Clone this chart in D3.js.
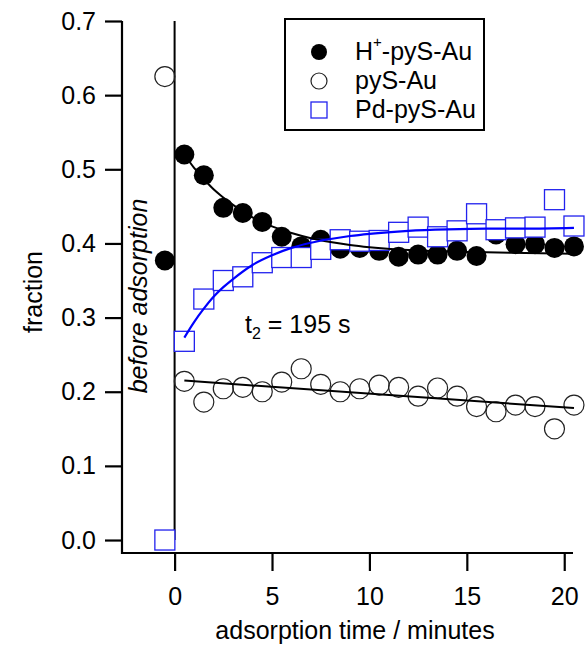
<!DOCTYPE html>
<html><head><meta charset="utf-8">
<script src="https://cdn.jsdelivr.net/npm/d3@7/dist/d3.min.js"></script>
<style>
html,body{margin:0;padding:0;background:#fff;}
text{font-family:"Liberation Sans",Arial,Helvetica,sans-serif;}
</style></head>
<body><svg id="chart" width="585" height="645"></svg>
<script>
// ---- data ----
const times = [0.5,1.5,2.5,3.5,4.5,5.5,6.5,7.5,8.5,9.5,10.5,11.5,12.5,13.5,14.5,15.5,16.5,17.5,18.5,19.5,20.5];
const beforeTime = -0.5;
const seriesNames = ["H\u207A-pyS-Au","pyS-Au","Pd-pyS-Au"];
const hPySAuBefore = 0.377;
const hPySAu = [0.520,0.492,0.448,0.441,0.429,0.409,0.396,0.405,0.393,0.394,0.390,0.382,0.385,0.385,0.390,0.383,0.412,0.399,0.399,0.394,0.396];
const pySAuBefore = 0.625;
const pySAu = [0.214,0.186,0.204,0.206,0.200,0.213,0.231,0.210,0.200,0.204,0.209,0.206,0.194,0.205,0.194,0.180,0.173,0.182,0.180,0.150,0.182];
const pdPySAuBefore = 0.0;
const pdPySAu = [0.268,0.325,0.350,0.355,0.374,0.381,0.381,0.392,0.405,0.403,0.404,0.415,0.422,0.409,0.417,0.440,0.4185,0.421,0.422,0.459,0.4235];
// fit curves
const fitTimes = [0.5,1,1.5,2,2.5,3,4,5,6,7,8,9,10,12,14,16,18,20.5];
const hFit = [0.520,0.502,0.487,0.473,0.462,0.452,0.435,0.423,0.414,0.407,0.402,0.398,0.395,0.391,0.389,0.388,0.387,0.386];
const pdFit = [0.273,0.294,0.312,0.328,0.341,0.352,0.371,0.384,0.394,0.401,0.406,0.410,0.413,0.417,0.419,0.420,0.420,0.421];
const linFitTimes = [0.5,20.5];
const pyFit = [0.215,0.178];
const xTicks = [0,5,10,15,20];
const yTicks = [0,0.1,0.2,0.3,0.4,0.5,0.6,0.7];
const fitLabel = {t:"t", sub:"2", rest:" = 195 s"};
const beforeLabel = "before adsorption";
const xTitle = "adsorption time / minutes";
const yTitle = "fraction";

// ---- drawing ----
const svg = d3.select("#chart");
const x = d3.scaleLinear().domain([-2.7, 20.45]).range([122, 573]);
const y = d3.scaleLinear().domain([-0.0175, 0.7]).range([553, 21]);
const blue = "#0000ff";
const FS = 25;

// axes
const xAxis = d3.axisBottom(x).tickValues(xTicks).tickSize(18).tickPadding(16).tickFormat(d3.format("d"));
const gx = svg.append("g").attr("transform", `translate(0,${y(-0.0175)})`).call(xAxis);
const yAxis = d3.axisLeft(y).tickValues(yTicks).tickSize(17).tickPadding(9).tickFormat(d3.format(".1f"));
const gy = svg.append("g").attr("transform", `translate(${x(-2.7)},0)`).call(yAxis);
[gx, gy].forEach(g => {
  g.select(".domain").remove();
  g.selectAll(".tick line").attr("stroke", "#000").attr("stroke-width", 2.2);
  g.selectAll(".tick text").attr("fill", "#000").style("font-size", FS + "px")
   .style("font-family", '"Liberation Sans",Arial,sans-serif');
});
gx.selectAll(".tick text").attr("dy", "0.71em");
// axis lines
svg.append("line").attr("x1", x(-2.7)).attr("x2", x(-2.7)).attr("y1", y(0.7)).attr("y2", y(-0.0175) + 1)
  .attr("stroke", "#000").attr("stroke-width", 2.2);
svg.append("line").attr("x1", x(-2.7) - 1).attr("x2", x(20.45)).attr("y1", y(-0.0175)).attr("y2", y(-0.0175))
  .attr("stroke", "#000").attr("stroke-width", 2.2);
// vertical line at t = 0
svg.append("line").attr("x1", x(0)).attr("x2", x(0)).attr("y1", y(0.7)).attr("y2", y(0))
  .attr("stroke", "#000").attr("stroke-width", 2);

// titles
svg.append("text").attr("x", 355).attr("y", 639).attr("text-anchor", "middle")
  .style("font-size", FS + "px").text(xTitle);
svg.append("text").attr("transform", "translate(42,292) rotate(-90)").attr("text-anchor", "middle")
  .style("font-size", FS + "px").text(yTitle);
svg.append("text").attr("transform", "translate(147,296) rotate(-90)").attr("text-anchor", "middle")
  .style("font-size", FS + "px").style("font-style", "italic").text(beforeLabel);

// markers
const hPts = [{t: beforeTime, v: hPySAuBefore}].concat(times.map((t, i) => ({t, v: hPySAu[i]})));
const pyPts = [{t: beforeTime, v: pySAuBefore}].concat(times.map((t, i) => ({t, v: pySAu[i]})));
const pdPts = [{t: beforeTime, v: pdPySAuBefore}].concat(times.map((t, i) => ({t, v: pdPySAu[i]})));

svg.append("g").selectAll("circle").data(hPts).join("circle")
  .attr("cx", d => x(d.t)).attr("cy", d => y(d.v)).attr("r", 10).attr("fill", "#000");
svg.append("g").selectAll("circle").data(pyPts).join("circle")
  .attr("cx", d => x(d.t)).attr("cy", d => y(d.v)).attr("r", 10)
  .attr("fill", "none").attr("stroke", "#222").attr("stroke-width", 1.2);
svg.append("g").selectAll("rect").data(pdPts).join("rect")
  .attr("x", d => x(d.t) - 10).attr("y", d => y(d.v) - 10).attr("width", 20).attr("height", 20)
  .attr("fill", "#fff").attr("stroke", "#2222ee").attr("stroke-width", 1.3);

// fit lines
const line = d3.line().x(d => x(d[0])).y(d => y(d[1])).curve(d3.curveMonotoneX);
svg.append("path").attr("d", line(fitTimes.map((t, i) => [t, hFit[i]])))
  .attr("fill", "none").attr("stroke", "#000").attr("stroke-width", 2);
svg.append("path").attr("d", line(linFitTimes.map((t, i) => [t, pyFit[i]])))
  .attr("fill", "none").attr("stroke", "#000").attr("stroke-width", 2);
svg.append("path").attr("d", line(fitTimes.map((t, i) => [t, pdFit[i]])))
  .attr("fill", "none").attr("stroke", blue).attr("stroke-width", 2.2);

// fit annotation
const ft = svg.append("text").attr("x", 245).attr("y", 333).style("font-size", FS + "px");
ft.append("tspan").text(fitLabel.t);
ft.append("tspan").attr("dy", 6).style("font-size", "16px").text(fitLabel.sub);
ft.append("tspan").attr("dy", -6).text(fitLabel.rest);

// legend
const lg = svg.append("g");
lg.append("rect").attr("x", 285).attr("y", 19).attr("width", 199).attr("height", 111)
  .attr("fill", "#fff").attr("stroke", "#000").attr("stroke-width", 2);
const rows = [52, 81, 110];
lg.append("circle").attr("cx", 319).attr("cy", rows[0]).attr("r", 8).attr("fill", "#000");
lg.append("circle").attr("cx", 319).attr("cy", rows[1]).attr("r", 8).attr("fill", "none").attr("stroke", "#222").attr("stroke-width", 1.2);
lg.append("rect").attr("x", 311).attr("y", rows[2] - 8).attr("width", 16).attr("height", 16)
  .attr("fill", "none").attr("stroke", "#2222ee").attr("stroke-width", 1.3);
const t1 = lg.append("text").attr("x", 355).attr("y", rows[0] + 8).style("font-size", FS + "px");
t1.append("tspan").text("H");
t1.append("tspan").attr("dy", -13).style("font-size", "15px").text("+");
t1.append("tspan").attr("dy", 13).text("-pyS-Au");
lg.append("text").attr("x", 355).attr("y", rows[1] + 8).style("font-size", FS + "px").text(seriesNames[1]);
lg.append("text").attr("x", 355).attr("y", rows[2] + 8).style("font-size", FS + "px").text(seriesNames[2]);
</script>
</body></html>
